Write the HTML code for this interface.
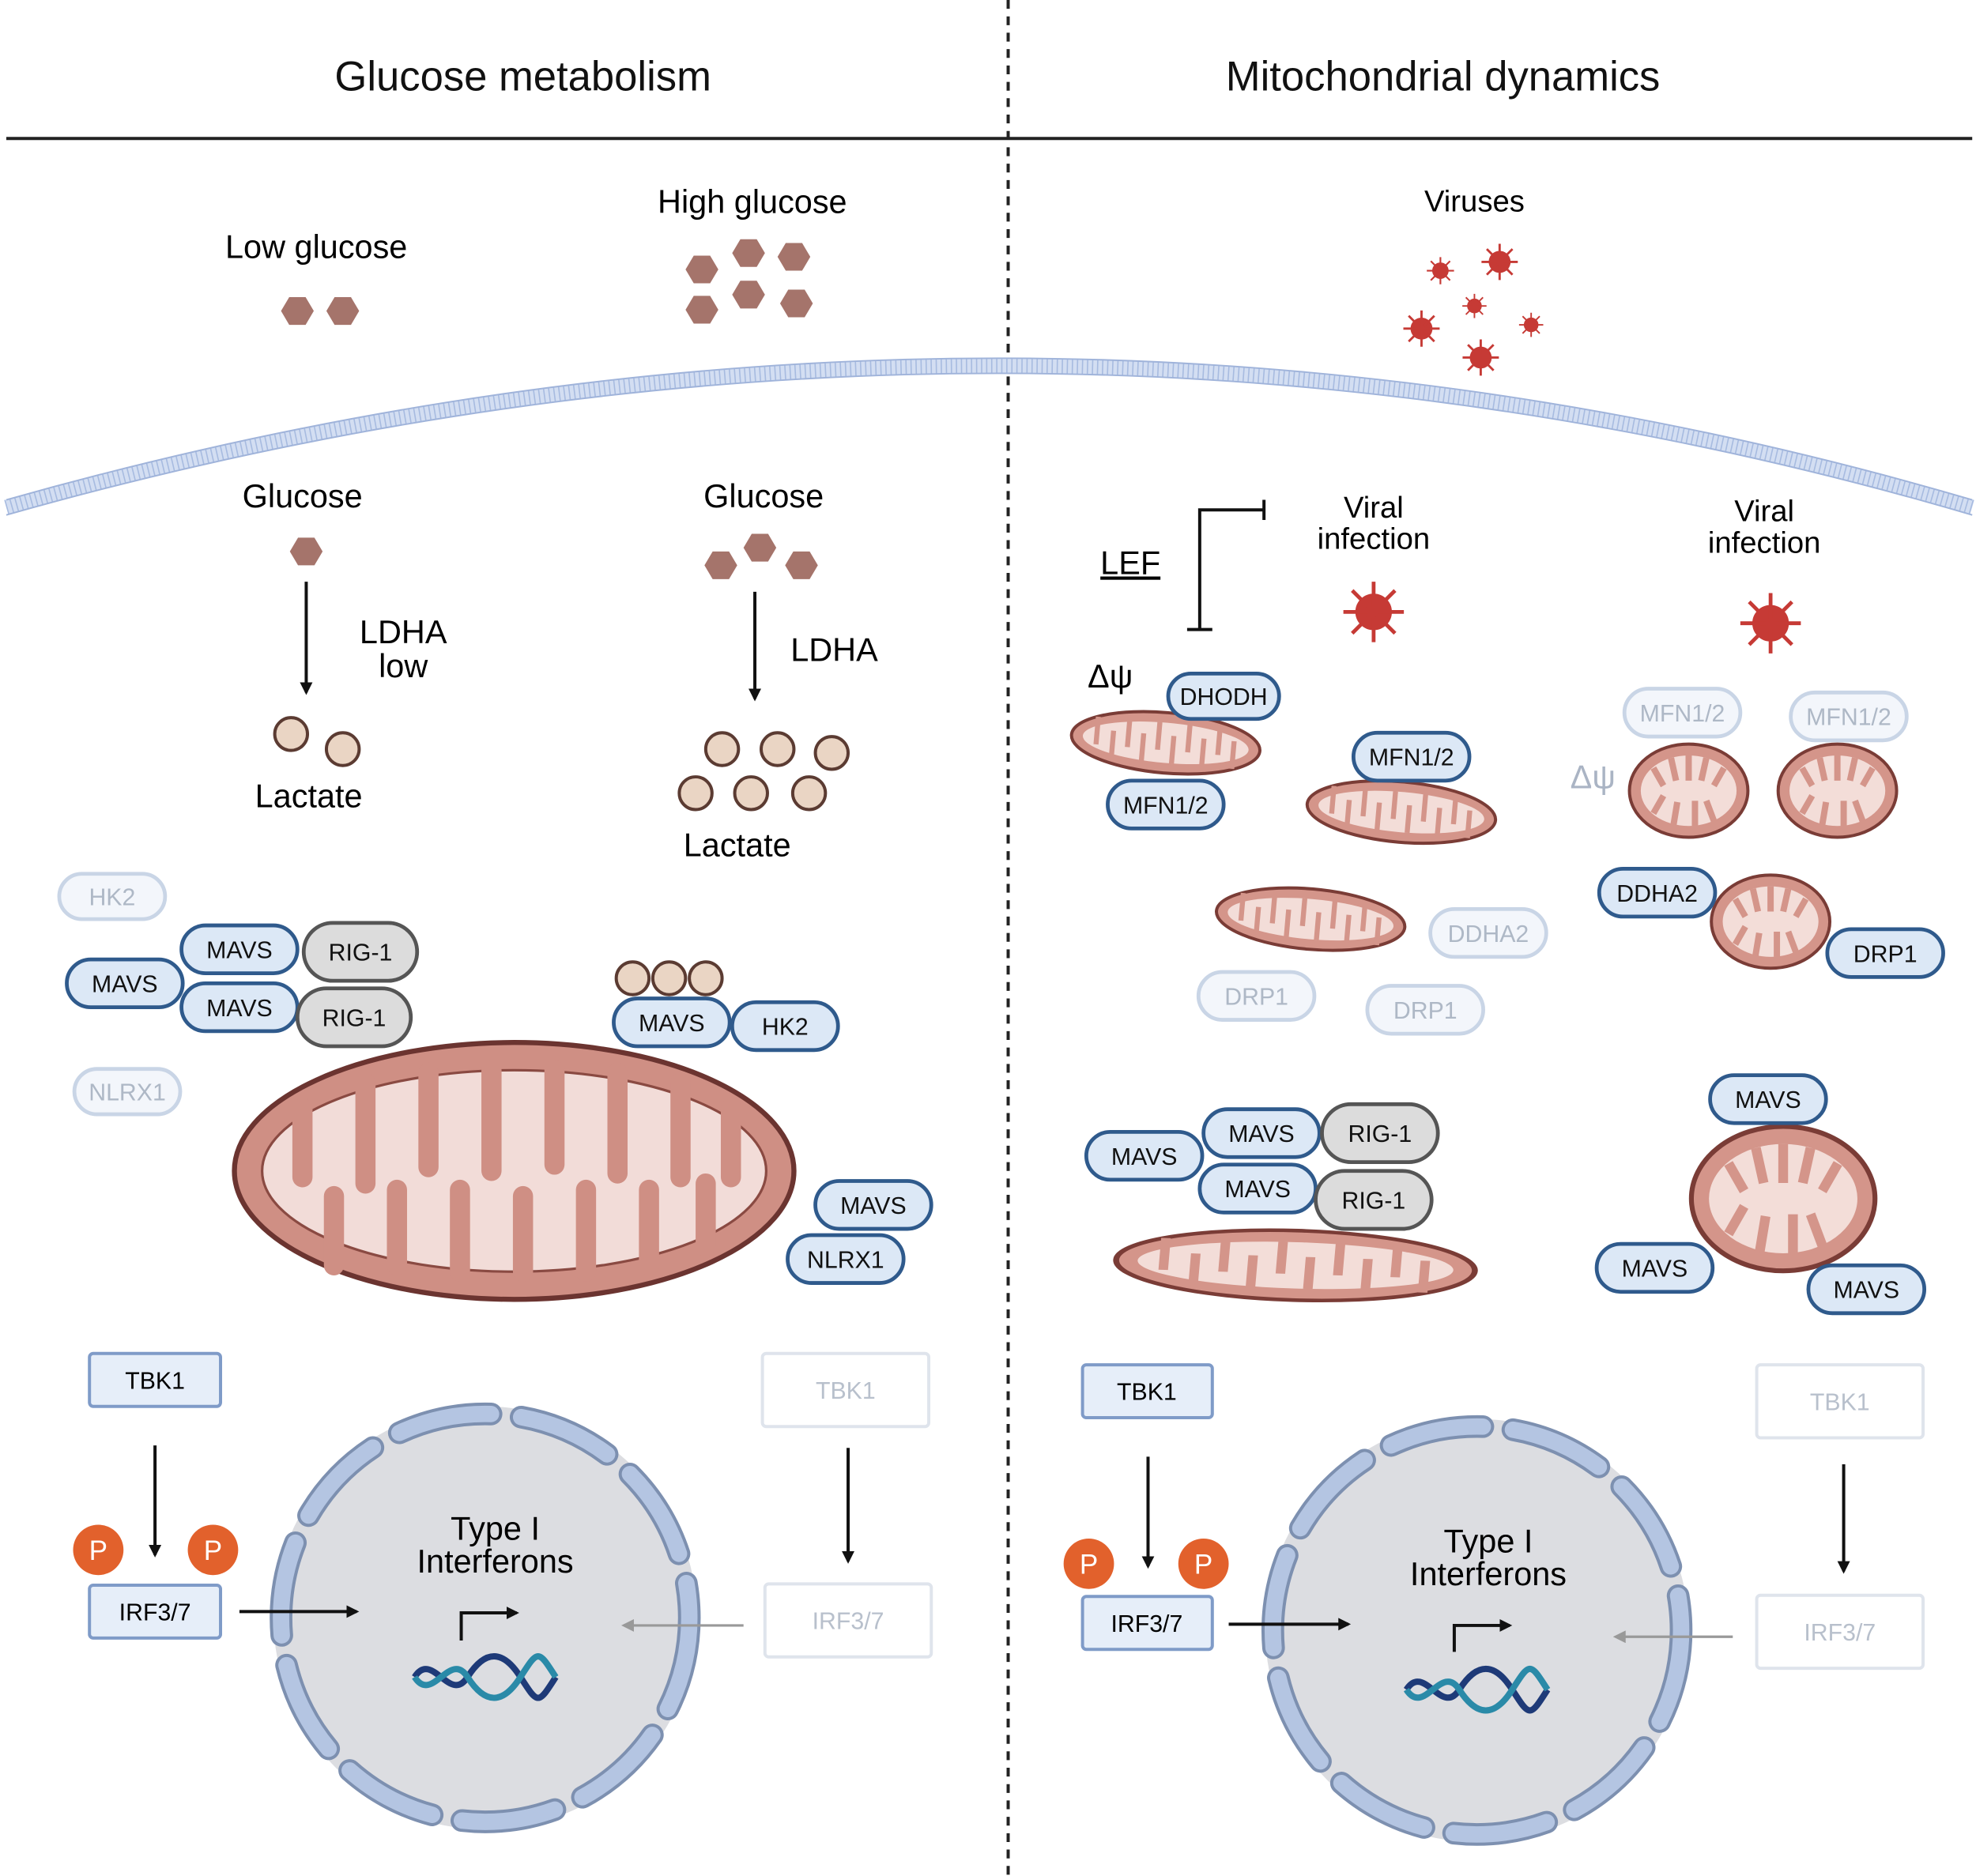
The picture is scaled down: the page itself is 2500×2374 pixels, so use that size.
<!DOCTYPE html>
<html><head><meta charset="utf-8"><style>html,body{margin:0;padding:0;background:#fff}svg{display:block}text{font-family:"Liberation Sans",sans-serif}</style></head><body>
<svg width="2500" height="2374" viewBox="0 0 1568 1490" preserveAspectRatio="none" xmlns="http://www.w3.org/2000/svg">
<defs>
<marker id="ah" markerWidth="10" markerHeight="10" refX="8" refY="5" orient="auto" markerUnits="userSpaceOnUse"><path d="M0,0 L10,5 L0,10 z" fill="#111"/></marker>
<marker id="ahg" markerWidth="10" markerHeight="10" refX="8" refY="5" orient="auto" markerUnits="userSpaceOnUse"><path d="M0,0 L10,5 L0,10 z" fill="#999"/></marker>
<polygon id="hex" points="-13,0 -6.5,-11 6.5,-11 13,0 6.5,11 -6.5,11" fill="#a5746b"/>
<circle id="lac" r="13" fill="#ead5c4" stroke="#5b3b32" stroke-width="2.5"/>
<g id="tube"><ellipse rx="75" ry="24" fill="#d4958a" stroke="#7a3c36" stroke-width="2.5"/><ellipse rx="66" ry="16" fill="#f3ddd8"/><path d="M-55,-16v22M-42,16v-22M-30,-16v22M-18,16v-22M-6,-16v22M6,16v-22M18,-16v22M30,16v-22M42,-16v22M54,16v-22" stroke="#d4958a" stroke-width="4"/></g>
<g id="round"><ellipse rx="47" ry="37" fill="#d4958a" stroke="#7a3c36" stroke-width="2.5"/><ellipse rx="38" ry="28" fill="#f3ddd8"/><path d="M-28,-18l8,14M-14,-26l4,18M0,-28v20M14,-26l-4,18M28,-18l-8,14M-28,18l8,-14M-12,27l3,-18M5,28v-20M20,24l-6,-16" stroke="#d4958a" stroke-width="5"/></g>
<g id="virus" fill="#c63a35" stroke="#c63a35"><circle r="14"/><path d="M0,-24V24M-24,0H24M-17,-17L17,17M17,-17L-17,17" stroke-width="3"/></g>
<g id="dna" fill="none" stroke-width="5"><path d="M-56,0 C-42,-22 -28,22 -14,0 S14,-22 28,0 S42,22 56,0" stroke="#1e3a78"/><path d="M-56,0 C-42,22 -28,-22 -14,0 S14,22 28,0 S42,-22 56,0" stroke="#2a8aa8"/></g>
</defs>

<text x="415" y="72" font-size="33" text-anchor="middle" fill="#111">Glucose metabolism</text>
<text x="1145" y="72" font-size="33" text-anchor="middle" fill="#111">Mitochondrial dynamics</text>
<line x1="5" y1="110" x2="1565" y2="110" stroke="#222" stroke-width="2.5"/>
<line x1="800" y1="0" x2="800" y2="1490" stroke="#222" stroke-width="2.5" stroke-dasharray="7,6"/>

<path d="M5,403 Q800,178 1565,403" fill="none" stroke="#d3def2" stroke-width="12"/>
<path d="M5,403 Q800,178 1565,403" fill="none" stroke="#a7bbe0" stroke-width="12" stroke-dasharray="1,3"/>
<path d="M5,397 Q800,172 1565,397" fill="none" stroke="#9fb3da" stroke-width="1.2"/>
<path d="M5,409 Q800,184 1565,409" fill="none" stroke="#9fb3da" stroke-width="1.2"/>

<text x="251" y="205" font-size="26" text-anchor="middle">Low glucose</text>
<text x="597" y="169" font-size="26" text-anchor="middle">High glucose</text>
<use href="#hex" x="236" y="247"/><use href="#hex" x="272" y="247"/>
<use href="#hex" x="557" y="214"/><use href="#hex" x="594" y="201"/><use href="#hex" x="630" y="204"/>
<use href="#hex" x="557" y="246"/><use href="#hex" x="594" y="234"/><use href="#hex" x="632" y="241"/>
<text x="1170" y="168" font-size="24" text-anchor="middle">Viruses</text>
<g transform="translate(1143,215) scale(0.45)"><use href="#virus"/></g>
<g transform="translate(1190,208) scale(0.6)"><use href="#virus"/></g>
<g transform="translate(1170,243) scale(0.4)"><use href="#virus"/></g>
<g transform="translate(1128,261) scale(0.6)"><use href="#virus"/></g>
<g transform="translate(1215,258) scale(0.4)"><use href="#virus"/></g>
<g transform="translate(1175,284) scale(0.6)"><use href="#virus"/></g>

<text x="240" y="403" font-size="26" text-anchor="middle">Glucose</text>
<text x="606" y="403" font-size="26" text-anchor="middle">Glucose</text>
<use href="#hex" x="243" y="438"/>
<use href="#hex" x="572" y="449"/><use href="#hex" x="603" y="435"/><use href="#hex" x="636" y="449"/>
<line x1="243" y1="462" x2="243" y2="550" stroke="#111" stroke-width="2.5" marker-end="url(#ah)"/>
<line x1="599" y1="470" x2="599" y2="555" stroke="#111" stroke-width="2.5" marker-end="url(#ah)"/>
<text x="320" y="511" font-size="26" text-anchor="middle">LDHA</text>
<text x="320" y="538" font-size="26" text-anchor="middle">low</text>
<text x="662" y="525" font-size="26" text-anchor="middle">LDHA</text>
<use href="#lac" x="231" y="583"/><use href="#lac" x="272" y="595"/>
<use href="#lac" x="573" y="595"/><use href="#lac" x="617" y="595"/><use href="#lac" x="660" y="598"/>
<use href="#lac" x="552" y="630"/><use href="#lac" x="596" y="630"/><use href="#lac" x="642" y="630"/>
<text x="245" y="641" font-size="26" text-anchor="middle">Lactate</text>
<text x="585" y="680" font-size="26" text-anchor="middle">Lactate</text>

<!-- big mito -->
<ellipse cx="408" cy="930" rx="222" ry="102" fill="#cf8f84" stroke="#6b3430" stroke-width="4"/>
<ellipse cx="408" cy="930" rx="200" ry="80" fill="#f2dcd8" stroke="#8a4a42" stroke-width="2"/>
<g stroke="#cf8f84" stroke-width="16" stroke-linecap="round">
<path d="M240,880v55M290,860v80M340,852v75M390,850v80M440,850v75M490,852v80M540,860v75M580,880v55"/>
<path d="M265,1005v-55M315,1005v-60M365,1010v-65M415,1010v-60M465,1010v-65M515,1005v-60M560,990v-50"/>
</g>
<use href="#lac" x="502" y="777"/><use href="#lac" x="531" y="777"/><use href="#lac" x="560" y="777"/>

<!-- right mitos -->
<g transform="translate(925,590) rotate(5)"><use href="#tube"/></g>
<g transform="translate(1112,645) rotate(5)"><use href="#tube"/></g>
<g transform="translate(1040,730) rotate(5)"><use href="#tube"/></g>
<g transform="translate(1028,1005) scale(1.9,1.15) rotate(3)"><use href="#tube"/></g>
<use href="#round" x="1340" y="628"/><use href="#round" x="1458" y="628"/><use href="#round" x="1405" y="732"/>
<g transform="translate(1415,952) scale(1.55)"><use href="#round"/></g>

<text x="1090" y="411" font-size="24" text-anchor="middle">Viral</text>
<text x="1090" y="436" font-size="24" text-anchor="middle">infection</text>
<text x="1400" y="414" font-size="24" text-anchor="middle">Viral</text>
<text x="1400" y="439" font-size="24" text-anchor="middle">infection</text>
<use href="#virus" x="1090" y="486"/><use href="#virus" x="1405" y="495"/>
<path d="M952,500V405H1003M1003,397V413M942,500H962" fill="none" stroke="#111" stroke-width="2.5"/>
<text x="897" y="456" font-size="26" text-anchor="middle" text-decoration="underline">LEF</text>
<text x="881" y="546" font-size="26" text-anchor="middle">Δψ</text>
<text x="1264" y="626" font-size="26" text-anchor="middle" fill="#aab4c4">Δψ</text>

<!-- pills -->
<g font-size="19" text-anchor="middle">
<g fill="#dce8f6" stroke="#2f5a8c" stroke-width="3">
<rect x="144" y="735" width="92" height="38" rx="19"/><rect x="53" y="762" width="92" height="38" rx="19"/><rect x="144" y="781" width="92" height="38" rx="19"/>
<rect x="487" y="793" width="92" height="38" rx="19"/><rect x="581" y="796" width="84" height="38" rx="19"/>
<rect x="647" y="938" width="92" height="38" rx="19"/><rect x="625" y="981" width="92" height="38" rx="19"/>
<rect x="927" y="535" width="88" height="36" rx="18"/><rect x="879" y="620" width="92" height="38" rx="19"/><rect x="1074" y="582" width="92" height="38" rx="19"/>
<rect x="1269" y="690" width="92" height="38" rx="19"/><rect x="1450" y="738" width="92" height="38" rx="19"/>
<rect x="862" y="899" width="92" height="38" rx="19"/><rect x="955" y="881" width="92" height="38" rx="19"/><rect x="952" y="925" width="92" height="38" rx="19"/>
<rect x="1357" y="854" width="92" height="38" rx="19"/><rect x="1267" y="988" width="92" height="38" rx="19"/><rect x="1435" y="1005" width="92" height="38" rx="19"/>
</g>
<g fill="#dcdcdc" stroke="#555" stroke-width="3">
<rect x="241" y="733" width="90" height="46" rx="23"/><rect x="236" y="785" width="90" height="46" rx="23"/>
<rect x="1049" y="877" width="92" height="46" rx="23"/><rect x="1044" y="930" width="92" height="46" rx="23"/>
</g>
<g fill="#f3f6fb" stroke="#c9d5e6" stroke-width="3">
<rect x="47" y="694" width="84" height="36" rx="18"/><rect x="59" y="849" width="84" height="36" rx="18"/>
<rect x="1135" y="722" width="92" height="38" rx="19"/><rect x="951" y="772" width="92" height="38" rx="19"/><rect x="1085" y="783" width="92" height="38" rx="19"/>
<rect x="1289" y="547" width="92" height="38" rx="19"/><rect x="1421" y="550" width="92" height="38" rx="19"/>
</g>
<g fill="#111">
<text x="190" y="761">MAVS</text><text x="99" y="788">MAVS</text><text x="190" y="807">MAVS</text>
<text x="286" y="763">RIG-1</text><text x="281" y="815">RIG-1</text>
<text x="533" y="819">MAVS</text><text x="623" y="822">HK2</text>
<text x="693" y="964">MAVS</text><text x="671" y="1007">NLRX1</text>
<text x="971" y="560">DHODH</text><text x="925" y="646">MFN1/2</text><text x="1120" y="608">MFN1/2</text>
<text x="1315" y="716">DDHA2</text><text x="1496" y="764">DRP1</text>
<text x="908" y="925">MAVS</text><text x="1001" y="907">MAVS</text><text x="998" y="951">MAVS</text>
<text x="1095" y="907">RIG-1</text><text x="1090" y="960">RIG-1</text>
<text x="1403" y="880">MAVS</text><text x="1313" y="1014">MAVS</text><text x="1481" y="1031">MAVS</text>
</g>
<g fill="#aeb8c6">
<text x="89" y="719">HK2</text><text x="101" y="874">NLRX1</text>
<text x="1181" y="748">DDHA2</text><text x="997" y="798">DRP1</text><text x="1131" y="809">DRP1</text>
<text x="1335" y="573">MFN1/2</text><text x="1467" y="576">MFN1/2</text>
</g>
</g>

<!-- nuclei -->
<circle cx="385" cy="1285" r="168" fill="#dcdde1"/>
<circle cx="385" cy="1285" r="162" fill="none" stroke="#7d90b0" stroke-width="18" stroke-dasharray="75,24" stroke-linecap="round"/>
<circle cx="385" cy="1285" r="162" fill="none" stroke="#b4c5e2" stroke-width="13" stroke-dasharray="75,24" stroke-linecap="round"/>
<circle cx="1172" cy="1295" r="168" fill="#dcdde1"/>
<circle cx="1172" cy="1295" r="162" fill="none" stroke="#7d90b0" stroke-width="18" stroke-dasharray="75,24" stroke-linecap="round"/>
<circle cx="1172" cy="1295" r="162" fill="none" stroke="#b4c5e2" stroke-width="13" stroke-dasharray="75,24" stroke-linecap="round"/>
<text x="393" y="1223" font-size="26" text-anchor="middle">Type I</text>
<text x="393" y="1249" font-size="26" text-anchor="middle">Interferons</text>
<text x="1181" y="1233" font-size="26" text-anchor="middle">Type I</text>
<text x="1181" y="1259" font-size="26" text-anchor="middle">Interferons</text>
<path d="M366,1303V1281H410" fill="none" stroke="#111" stroke-width="2.5" marker-end="url(#ah)"/>
<path d="M1154,1312V1291H1198" fill="none" stroke="#111" stroke-width="2.5" marker-end="url(#ah)"/>
<use href="#dna" x="385" y="1332"/><use href="#dna" x="1172" y="1342"/>

<!-- boxes -->
<g font-size="19" text-anchor="middle">
<g fill="#e6eef9" stroke="#7f9bc8" stroke-width="2.5">
<rect x="71" y="1075" width="104" height="42" rx="3"/><rect x="71" y="1259" width="104" height="42" rx="3"/>
<rect x="859" y="1084" width="103" height="42" rx="3"/><rect x="859" y="1268" width="103" height="42" rx="3"/>
</g>
<g fill="#fff" stroke="#dfe4ec" stroke-width="2.5">
<rect x="605" y="1075" width="132" height="58" rx="3"/><rect x="607" y="1258" width="132" height="58" rx="3"/>
<rect x="1394" y="1084" width="132" height="58" rx="3"/><rect x="1394" y="1267" width="132" height="58" rx="3"/>
</g>
<text x="123" y="1103">TBK1</text><text x="123" y="1287">IRF3/7</text>
<text x="910" y="1112">TBK1</text><text x="910" y="1296">IRF3/7</text>
<g fill="#b8c0cc"><text x="671" y="1111">TBK1</text><text x="673" y="1294">IRF3/7</text><text x="1460" y="1120">TBK1</text><text x="1460" y="1303">IRF3/7</text></g>
</g>
<g stroke="#111" stroke-width="2.5">
<line x1="123" y1="1148" x2="123" y2="1235" marker-end="url(#ah)"/>
<line x1="673" y1="1150" x2="673" y2="1240" marker-end="url(#ah)"/>
<line x1="190" y1="1280" x2="283" y2="1280" marker-end="url(#ah)"/>
<line x1="911" y1="1157" x2="911" y2="1244" marker-end="url(#ah)"/>
<line x1="1463" y1="1163" x2="1463" y2="1248" marker-end="url(#ah)"/>
<line x1="975" y1="1290" x2="1070" y2="1290" marker-end="url(#ah)"/>
</g>
<line x1="590" y1="1291" x2="495" y2="1291" stroke="#999" stroke-width="2" marker-end="url(#ahg)"/>
<line x1="1375" y1="1300" x2="1282" y2="1300" stroke="#999" stroke-width="2" marker-end="url(#ahg)"/>
<g font-size="22" text-anchor="middle" fill="#fff">
<circle cx="78" cy="1231" r="20" fill="#e2612c"/><text x="78" y="1239">P</text>
<circle cx="169" cy="1231" r="20" fill="#e2612c"/><text x="169" y="1239">P</text>
<circle cx="864" cy="1242" r="20" fill="#e2612c"/><text x="864" y="1250">P</text>
<circle cx="955" cy="1242" r="20" fill="#e2612c"/><text x="955" y="1250">P</text>
</g>
</svg>
</body></html>
